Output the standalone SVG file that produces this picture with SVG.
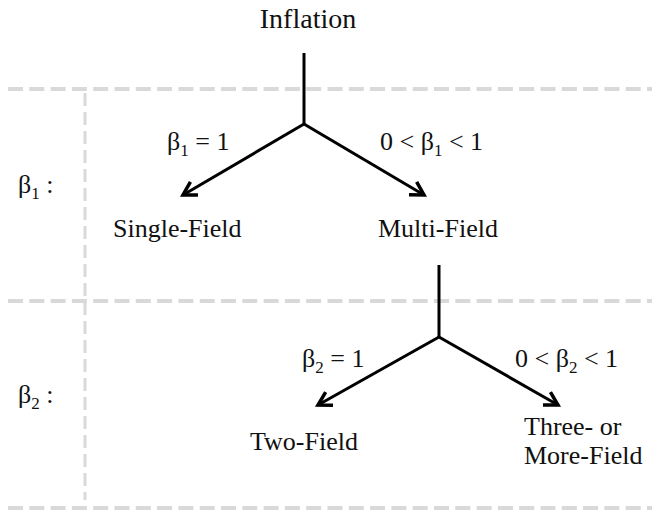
<svg xmlns="http://www.w3.org/2000/svg" width="652" height="510" viewBox="0 0 652 510">
<defs>
<style>
text{font-family:"Liberation Serif","Times New Roman",serif;font-size:26px;fill:#111}
.sub{font-size:17px}
.big{font-size:28px}
.grid{stroke:#d9d9d9;fill:none}
.h{stroke-width:4;stroke-dasharray:15 6.3}
.v{stroke-width:3;stroke-dasharray:13 6}
.edge{stroke:#000;stroke-width:3;fill:none}
</style>
<marker id="arr" markerUnits="userSpaceOnUse" markerWidth="30" markerHeight="30" viewBox="-20 -15 30 30" refX="0" refY="0" orient="auto">
<path d="M-13,-7.5 L0,0 L-13,7.5" fill="none" stroke="#000" stroke-width="3.5" stroke-linejoin="miter"/>
</marker>
</defs>
<rect width="652" height="510" fill="#fff"/>
<g id="grid">
<line class="grid h" x1="8" y1="89" x2="652" y2="89"/>
<line class="grid h" x1="8" y1="301" x2="652" y2="301"/>
<line class="grid h" x1="8" y1="508" x2="652" y2="508"/>
<line class="grid v" x1="85" y1="93" x2="85" y2="500"/>
</g>
<g id="connectors">
<line class="edge" x1="304" y1="53" x2="304" y2="124"/>
<line class="edge" x1="304" y1="124" x2="183" y2="195" marker-end="url(#arr)"/>
<line class="edge" x1="304" y1="124" x2="424" y2="195" marker-end="url(#arr)"/>
<line class="edge" x1="439" y1="265" x2="439" y2="337"/>
<line class="edge" x1="439" y1="337" x2="318" y2="405" marker-end="url(#arr)"/>
<line class="edge" x1="439" y1="337" x2="558" y2="405" marker-end="url(#arr)"/>
</g>
<g id="inflation"><text class="big" x="308" y="28" text-anchor="middle">Inflation</text></g>
<g id="label-b1"><text x="18" y="193">β<tspan class="sub" dy="6">1</tspan><tspan dy="-6"> :</tspan></text></g>
<g id="label-b2"><text x="18" y="403">β<tspan class="sub" dy="6">2</tspan><tspan dy="-6"> :</tspan></text></g>
<g id="edge-label-1"><text x="167" y="150">β<tspan class="sub" dy="6">1</tspan><tspan dy="-6"> = 1</tspan></text></g>
<g id="edge-label-2"><text x="380" y="150">0 &lt; β<tspan class="sub" dy="6">1</tspan><tspan dy="-6"> &lt; 1</tspan></text></g>
<g id="edge-label-3"><text x="302" y="367">β<tspan class="sub" dy="6">2</tspan><tspan dy="-6"> = 1</tspan></text></g>
<g id="edge-label-4"><text x="515" y="367">0 &lt; β<tspan class="sub" dy="6">2</tspan><tspan dy="-6"> &lt; 1</tspan></text></g>
<g id="single-field"><text x="113" y="237">Single-Field</text></g>
<g id="multi-field"><text x="378" y="237">Multi-Field</text></g>
<g id="two-field"><text x="250" y="450">Two-Field</text></g>
<g id="three-field"><text x="524" y="435">Three- or</text><text x="524" y="464">More-Field</text></g>
</svg>
